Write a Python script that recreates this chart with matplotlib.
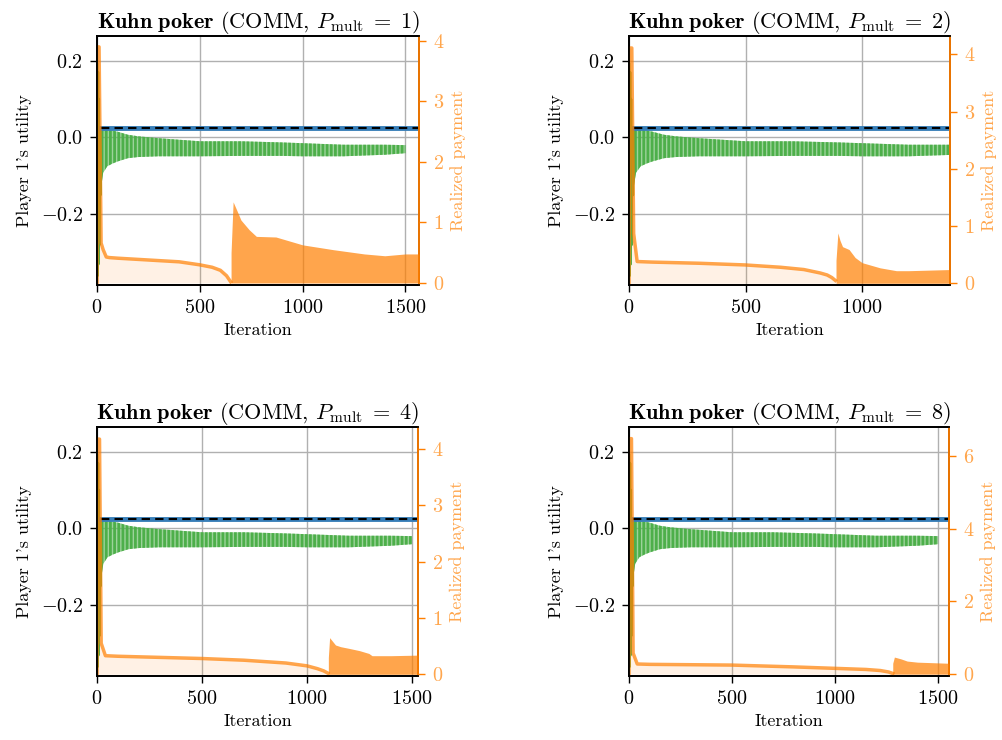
import matplotlib
matplotlib.use("Agg")
import matplotlib.pyplot as plt
import numpy as np

plt.rcParams['font.family'] = 'serif'
plt.rcParams['font.serif'] = ['cmr10']
plt.rcParams['mathtext.fontset'] = 'cm'
plt.rcParams['axes.formatter.use_mathtext'] = True
plt.rcParams['axes.unicode_minus'] = True
plt.rcParams['hatch.linewidth'] = 2.0

GREEN = '#4daf4a'
BLUE = '#377eb8'
ORANGE = '#ff7f00'
ORANGE_TXT = '#ffa64d'

# multipliers shown in the four panels
p_mult = [1, 2, 4, 8]

# player 1's utility (same in every panel): early spikes, then band envelope
g_early_x = [0, 2, 4, 6, 8, 10, 13, 16, 20]
g_early_y = [0.19, -0.36, 0.17, -0.33, 0.10, -0.28, 0.02, -0.15, 0.02]
g_x = [20, 30, 50, 75, 100, 150, 200, 300, 400, 500, 700, 900, 1000, 1200, 1400, 1500]
g_hi = [0.02, 0.02, 0.02, 0.018, 0.015, 0.007, 0.003, -0.002, -0.006, -0.01,
        -0.01, -0.013, -0.015, -0.019, -0.019, -0.02]
g_lo = [-0.13, -0.092, -0.075, -0.068, -0.0625, -0.054, -0.051, -0.049, -0.049,
        -0.049, -0.048, -0.048, -0.049, -0.049, -0.045, -0.041]
blue_val = 0.0245
blue_start = 20

# realized payment: smooth phase, then oscillating phase (upper envelope)
pre_x = [
    [0, 3, 10, 20, 30, 45, 60, 100, 200, 300, 400, 500, 560, 600, 630, 650],
    [0, 3, 12, 20, 35, 100, 300, 500, 650, 750, 820, 850, 870, 885],
    [0, 3, 12, 20, 40, 100, 300, 500, 700, 900, 1000, 1050, 1080, 1100],
    [0, 3, 12, 20, 40, 100, 500, 800, 1000, 1150, 1220, 1260, 1280],
]
pre_y = [
    [0, 3.9, 3.9, 0.66, 0.55, 0.43, 0.42, 0.41, 0.39, 0.37, 0.35, 0.30, 0.26, 0.21, 0.12, 0.02],
    [0, 4.11, 4.11, 0.87, 0.38, 0.37, 0.35, 0.32, 0.28, 0.24, 0.18, 0.145, 0.10, 0.05],
    [0, 4.17, 4.17, 0.55, 0.33, 0.32, 0.30, 0.28, 0.25, 0.20, 0.15, 0.10, 0.06, 0.02],
    [0, 6.47, 6.47, 0.58, 0.28, 0.27, 0.25, 0.20, 0.16, 0.13, 0.10, 0.06, 0.02],
]
post_x = [
    [652, 662, 680, 700, 740, 775, 870, 1000, 1150, 1300, 1400, 1500, 1566],
    [888, 896, 905, 916, 944, 970, 1000, 1077, 1147, 1200, 1377],
    [1102, 1108, 1136, 1160, 1200, 1250, 1295, 1310, 1400, 1529],
    [1280, 1288, 1320, 1350, 1400, 1553],
]
post_y = [
    [0.5, 1.34, 1.2, 1.04, 0.88, 0.77, 0.76, 0.63, 0.55, 0.48, 0.45, 0.48, 0.48],
    [0.4, 0.88, 0.75, 0.64, 0.59, 0.45, 0.36, 0.27, 0.22, 0.22, 0.24],
    [0.3, 0.65, 0.52, 0.49, 0.46, 0.42, 0.37, 0.33, 0.33, 0.34],
    [0.3, 0.47, 0.42, 0.36, 0.33, 0.30],
]
x_right = [1566, 1377, 1529, 1553]
y2_lim = [(-0.033, 4.08), (-0.03, 4.32), (-0.03, 4.385), (-0.05, 6.79)]
y2_ticks = [[0, 1, 2, 3, 4], [0, 1, 2, 3, 4], [0, 1, 2, 3, 4], [0, 2, 4, 6]]

fig = plt.figure(figsize=(10.02, 7.4), dpi=100)
boxes = [
    (97, 36, 322), (629, 36, 321),
    (97, 427, 321), (629, 427, 320),
]
W, H = 1002, 740
TICK_FS = 14.5
LAB_FS = 13

for i, (px, py, pw) in enumerate(boxes):
    ax = fig.add_axes([px / W, 1 - (py + 249) / H, pw / W, 249 / H])
    ax.set_xlim(0, x_right[i])
    ax.set_ylim(-0.384, 0.264)
    ax.grid(True, color='#b0b0b0', lw=1)
    ax.set_axisbelow(True)

    ax.fill_between(g_x, g_lo, g_hi, facecolor=(0.30, 0.69, 0.29, 0.55),
                    edgecolor=GREEN, hatch='||||', lw=0)
    ax.plot(g_early_x, g_early_y, color=GREEN, lw=2)
    ax.plot([blue_start, x_right[i]], [blue_val, blue_val], color=BLUE, lw=3.5)
    ax.plot([blue_start, x_right[i]], [blue_val, blue_val], color='black', lw=1.5,
            ls=(0, (4, 2.5)))

    ax.set_yticks([-0.2, 0.0, 0.2])
    ax.set_xticks([0, 500, 1000, 1500])
    ax.set_xlim(0, x_right[i])
    ax.tick_params(labelsize=TICK_FS, length=5, width=1, pad=5)
    ax.set_xlabel('Iteration', fontsize=LAB_FS, labelpad=4)
    ax.set_ylabel("Player 1's utility", fontsize=LAB_FS, labelpad=6)
    for s in ax.spines.values():
        s.set_linewidth(1.3)
    ax.set_title(r'$\mathbf{Kuhn\ poker}$ (COMM, $P_{\mathrm{mult}}\;=\;%d$)' % p_mult[i],
                 fontsize=16, pad=6)

    ax2 = ax.twinx()
    ax2.fill_between(pre_x[i], 0, pre_y[i], color=ORANGE, alpha=0.1, lw=0)
    ax2.plot(pre_x[i], pre_y[i], color=ORANGE, alpha=0.7, lw=2.5)
    ax2.fill_between(post_x[i], 0, post_y[i], color=ORANGE, alpha=0.7, lw=0)
    ax2.set_ylim(*y2_lim[i])
    ax2.set_yticks(y2_ticks[i])
    ax2.set_xlim(0, x_right[i])
    ax2.tick_params(axis='y', colors=ORANGE, labelcolor=ORANGE_TXT, labelsize=TICK_FS,
                    length=5, width=1, pad=5)
    ax2.set_ylabel('Realized payment', color=ORANGE_TXT, fontsize=LAB_FS, labelpad=4)
    for s in ax2.spines.values():
        s.set_linewidth(1.3)
    ax2.spines['right'].set_color(ORANGE)

fig.savefig('out.png', dpi=100)
